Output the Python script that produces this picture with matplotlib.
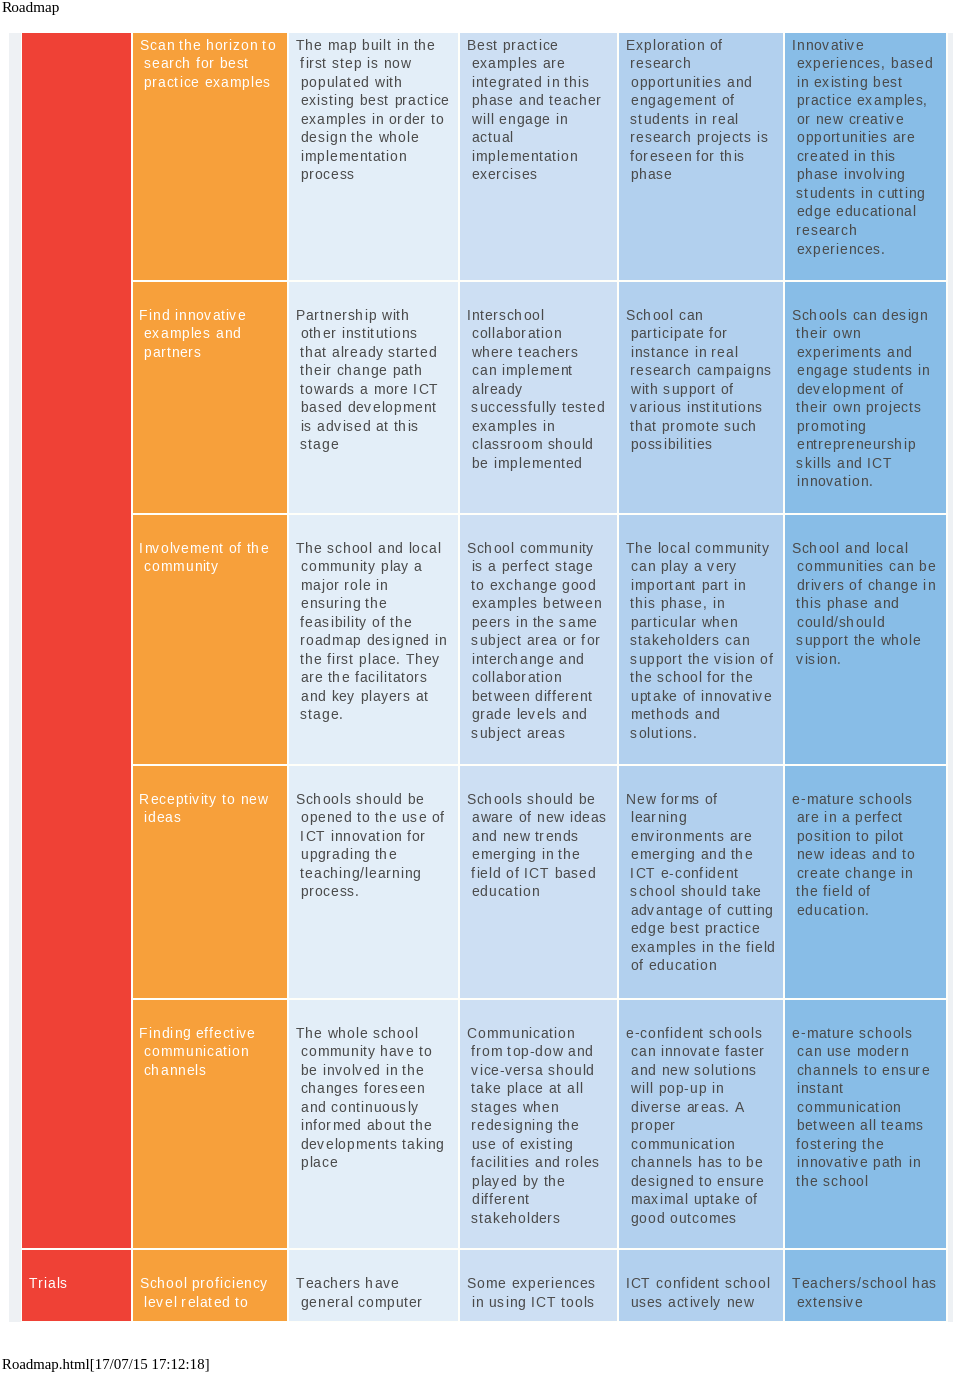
import matplotlib
matplotlib.use("Agg")
import matplotlib.pyplot as plt
from matplotlib.patches import Rectangle
from matplotlib.font_manager import FontProperties, findfont, get_font

# --- veriler (tablo metinleri) ---
asamalar = ["", "", "", "", "", "Trials"]

hedefler = [
    "Scan the horizon to\nsearch for best\npractice examples",
    "Find innovative\nexamples and\npartners",
    "Involvement of the\ncommunity",
    "Receptivity to new\nideas",
    "Finding effective\ncommunication\nchannels",
    "School proficiency\nlevel related to",
]

seviye_1 = [
    "The map built in the\nfirst step is now\npopulated with\nexisting best practice\nexamples in order to\ndesign the whole\nimplementation\nprocess",
    "Partnership with\nother institutions\nthat already started\ntheir change path\ntowards a more ICT\nbased development\nis advised at this\nstage",
    "The school and local\ncommunity play a\nmajor role in\nensuring the\nfeasibility of the\nroadmap designed in\nthe first place. They\nare the facilitators\nand key players at\nstage.",
    "Schools should be\nopened to the use of\nICT innovation for\nupgrading the\nteaching/learning\nprocess.",
    "The whole school\ncommunity have to\nbe involved in the\nchanges foreseen\nand continuously\ninformed about the\ndevelopments taking\nplace",
    "Teachers have\ngeneral computer",
]

seviye_2 = [
    "Best practice\nexamples are\nintegrated in this\nphase and teacher\nwill engage in\nactual\nimplementation\nexercises",
    "Interschool\ncollaboration\nwhere teachers\ncan implement\nalready\nsuccessfully tested\nexamples in\nclassroom should\nbe implemented",
    "School community\nis a perfect stage\nto exchange good\nexamples between\npeers in the same\nsubject area or for\ninterchange and\ncollaboration\nbetween different\ngrade levels and\nsubject areas",
    "Schools should be\naware of new ideas\nand new trends\nemerging in the\nfield of ICT based\neducation",
    "Communication\nfrom top-dow and\nvice-versa should\ntake place at all\nstages when\nredesigning the\nuse of existing\nfacilities and roles\nplayed by the\ndifferent\nstakeholders",
    "Some experiences\nin using ICT tools",
]

seviye_3 = [
    "Exploration of\nresearch\nopportunities and\nengagement of\nstudents in real\nresearch projects is\nforeseen for this\nphase",
    "School can\nparticipate for\ninstance in real\nresearch campaigns\nwith support of\nvarious institutions\nthat promote such\npossibilities",
    "The local community\ncan play a very\nimportant part in\nthis phase, in\nparticular when\nstakeholders can\nsupport the vision of\nthe school for the\nuptake of innovative\nmethods and\nsolutions.",
    "New forms of\nlearning\nenvironments are\nemerging and the\nICT e-confident\nschool should take\nadvantage of cutting\nedge best practice\nexamples in the field\nof education",
    "e-confident schools\ncan innovate faster\nand new solutions\nwill pop-up in\ndiverse areas. A\nproper\ncommunication\nchannels has to be\ndesigned to ensure\nmaximal uptake of\ngood outcomes",
    "ICT confident school\nuses actively new",
]

seviye_4 = [
    "Innovative\nexperiences, based\nin existing best\npractice examples,\nor new creative\nopportunities are\ncreated in this\nphase involving\nstudents in cutting\nedge educational\nresearch\nexperiences.",
    "Schools can design\ntheir own\nexperiments and\nengage students in\ndevelopment of\ntheir own projects\npromoting\nentrepreneurship\nskills and ICT\ninnovation.",
    "School and local\ncommunities can be\ndrivers of change in\nthis phase and\ncould/should\nsupport the whole\nvision.",
    "e-mature schools\nare in a perfect\nposition to pilot\nnew ideas and to\ncreate change in\nthe field of\neducation.",
    "e-mature schools\ncan use modern\nchannels to ensure\ninstant\ncommunication\nbetween all teams\nfostering the\ninnovative path in\nthe school",
    "Teachers/school has\nextensive",
]

# --- yerlesim (piksel) ---
satir_ust = [33, 281.5, 514.5, 765.5, 999.5, 1250]
satir_alt = [279.5, 512.5, 763.5, 997.5, 1248, 1321]
ilk_satir = [16.5, 38, 38, 38, 38, 38]   # ilk satirin taban cizgisi, hucre ustunden
kolon_sol = [22, 132.5, 289, 460, 619, 785]
kolon_sag = [130.5, 287, 458, 617, 783, 946]
renkler = ["#EF4136", "#F7A03B", "#E3EEF8", "#CDDFF3", "#B2D0EE", "#88BDE7"]
yazi_renk = ["white", "white", "#4A4A4A", "#4A4A4A", "#4A4A4A", "#4A4A4A"]

YAZI_PT = 10
HARF_ARA = 0.9
SATIR_ARA = 18.55
_font = get_font(findfont(FontProperties(family="Liberation Sans")))


def harf_genislik(c):
    _font.set_size(YAZI_PT, 100)
    g = _font.load_char(ord(c))
    return g.linearHoriAdvance / 65536


def satir_yaz(ax, x, y, metin, renk):
    # harf araligini elle ekle (html'deki letter-spacing gibi)
    for c in metin:
        if c != " ":
            ax.text(x, y, c, fontsize=YAZI_PT, family="Liberation Sans",
                    color=renk, ha="left", va="baseline")
        x += harf_genislik(c) + HARF_ARA


def hucre_yaz(ax, kolon, satir, metin):
    if not metin:
        return
    x0 = kolon_sol[kolon] + 6.5
    y0 = satir_ust[satir] + ilk_satir[satir]
    for i, s in enumerate(metin.split("\n")):
        girinti = 0 if i == 0 else 4.6
        satir_yaz(ax, x0 + girinti, y0 + i * SATIR_ARA, s, yazi_renk[kolon])


fig = plt.figure(figsize=(9.6, 13.75), dpi=100)
ax = fig.add_axes([0, 0, 1, 1])
ax.set_xlim(0, 960)
ax.set_ylim(1375, 0)
ax.axis("off")

# arka plan paneli
ax.add_patch(Rectangle((9, 33), 944, 1289, color="#EEF1F4", lw=0))
ax.add_patch(Rectangle((20.5, 33), 927, 1289, color="#FFFFFA", lw=0))

kolonlar = [asamalar, hedefler, seviye_1, seviye_2, seviye_3, seviye_4]
for k, metinler in enumerate(kolonlar):
    if k == 0:
        # kirmizi kolon ilk bes satiri birlestiriyor
        ax.add_patch(Rectangle((kolon_sol[0], satir_ust[0]), kolon_sag[0] - kolon_sol[0],
                               satir_alt[4] - satir_ust[0], color=renkler[0], lw=0))
        ax.add_patch(Rectangle((kolon_sol[0], satir_ust[5]), kolon_sag[0] - kolon_sol[0],
                               satir_alt[5] - satir_ust[5], color=renkler[0], lw=0))
    else:
        for r in range(len(metinler)):
            ax.add_patch(Rectangle((kolon_sol[k], satir_ust[r]), kolon_sag[k] - kolon_sol[k],
                                   satir_alt[r] - satir_ust[r], color=renkler[k], lw=0))
    for r, metin in enumerate(metinler):
        hucre_yaz(ax, k, r, metin)

ax.text(2, 11.5, "Roadmap", fontsize=11, family="Liberation Serif", color="black",
        ha="left", va="baseline")
ax.text(2, 1369.5, "Roadmap.html[17/07/15 17:12:18]", fontsize=10.7, family="Liberation Serif",
        color="black", ha="left", va="baseline")

fig.savefig("out.png", dpi=100)
